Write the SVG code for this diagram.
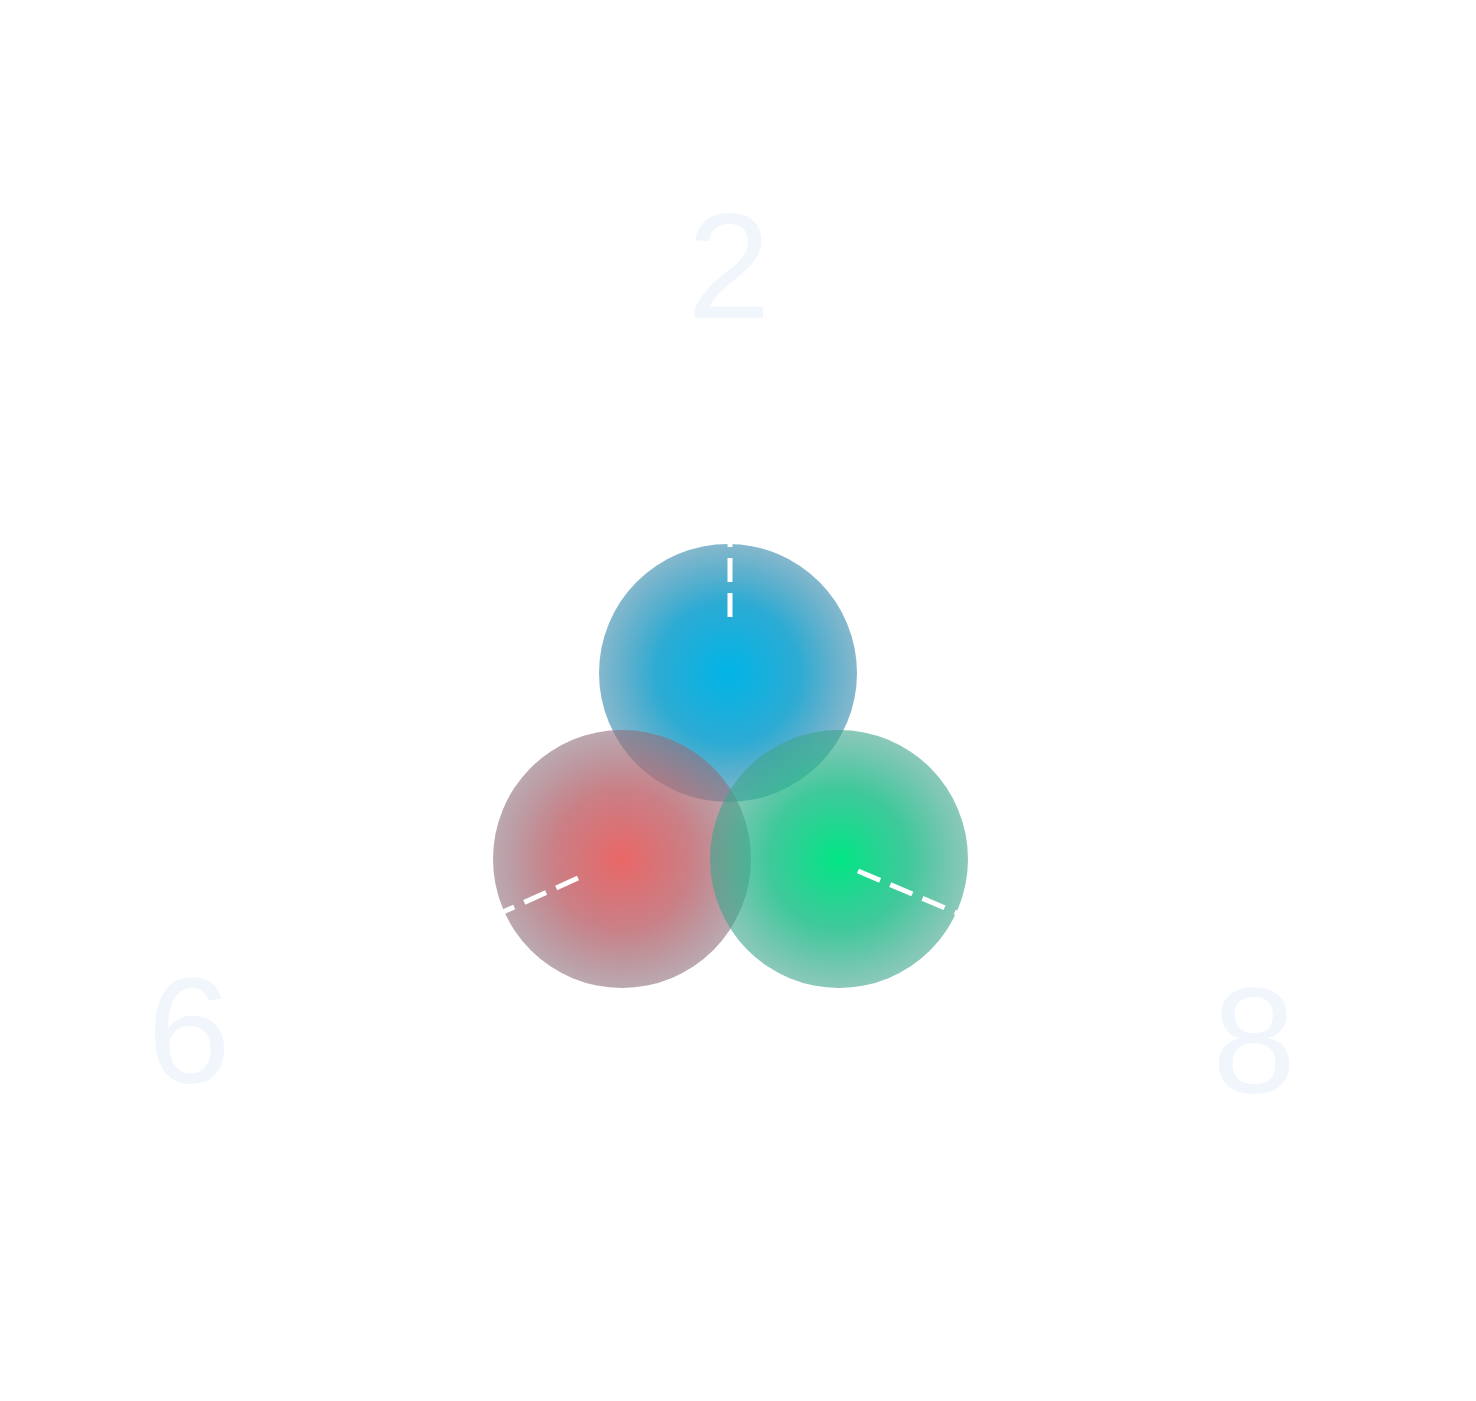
<svg xmlns="http://www.w3.org/2000/svg" width="1476" height="1401" viewBox="0 0 1476 1401">
  <style>
    .num { font-family: "Liberation Sans", Arial, sans-serif; font-size: 150px; fill: #f1f6fd; text-anchor: middle; }
    .ray { stroke: #ffffff; stroke-width: 5; stroke-dasharray: 24 11; fill: none; }
  </style>
  <defs>
    <radialGradient id="gBlue" cx="0.5" cy="0.5" r="0.5">
      <stop offset="0" stop-color="#00b4e6" stop-opacity="1"/>
      <stop offset="0.55" stop-color="#1aa4d0" stop-opacity="0.92"/>
      <stop offset="1" stop-color="#3a8cae" stop-opacity="0.62"/>
    </radialGradient>
    <radialGradient id="gRed" cx="0.5" cy="0.5" r="0.5">
      <stop offset="0" stop-color="#ea6666" stop-opacity="1"/>
      <stop offset="0.55" stop-color="#c06a72" stop-opacity="0.85"/>
      <stop offset="1" stop-color="#8e6f7c" stop-opacity="0.6"/>
    </radialGradient>
    <radialGradient id="gGreen" cx="0.5" cy="0.5" r="0.5">
      <stop offset="0" stop-color="#00e684" stop-opacity="1"/>
      <stop offset="0.55" stop-color="#1fbf8a" stop-opacity="0.85"/>
      <stop offset="1" stop-color="#3ea48c" stop-opacity="0.6"/>
    </radialGradient>
  </defs>
  <rect width="1476" height="1401" fill="#ffffff"/>
  <g id="labels">
    <text class="num" x="729" y="318">2</text>
    <text class="num" x="189" y="1083">6</text>
    <text class="num" x="1254" y="1093">8</text>
  </g>
  <g id="node-blue">
    <circle cx="728" cy="673" r="129" fill="url(#gBlue)"/>
  </g>
  <g id="node-red">
    <circle cx="622" cy="859" r="129" fill="url(#gRed)"/>
  </g>
  <g id="node-green">
    <circle cx="839" cy="859" r="129" fill="url(#gGreen)"/>
  </g>
  <g id="connectors">
    <line class="ray" x1="730" y1="617" x2="730" y2="544"/>
    <line class="ray" x1="578" y1="878" x2="503" y2="912"/>
    <line class="ray" x1="858" y1="871" x2="957" y2="913"/>
  </g>
</svg>
